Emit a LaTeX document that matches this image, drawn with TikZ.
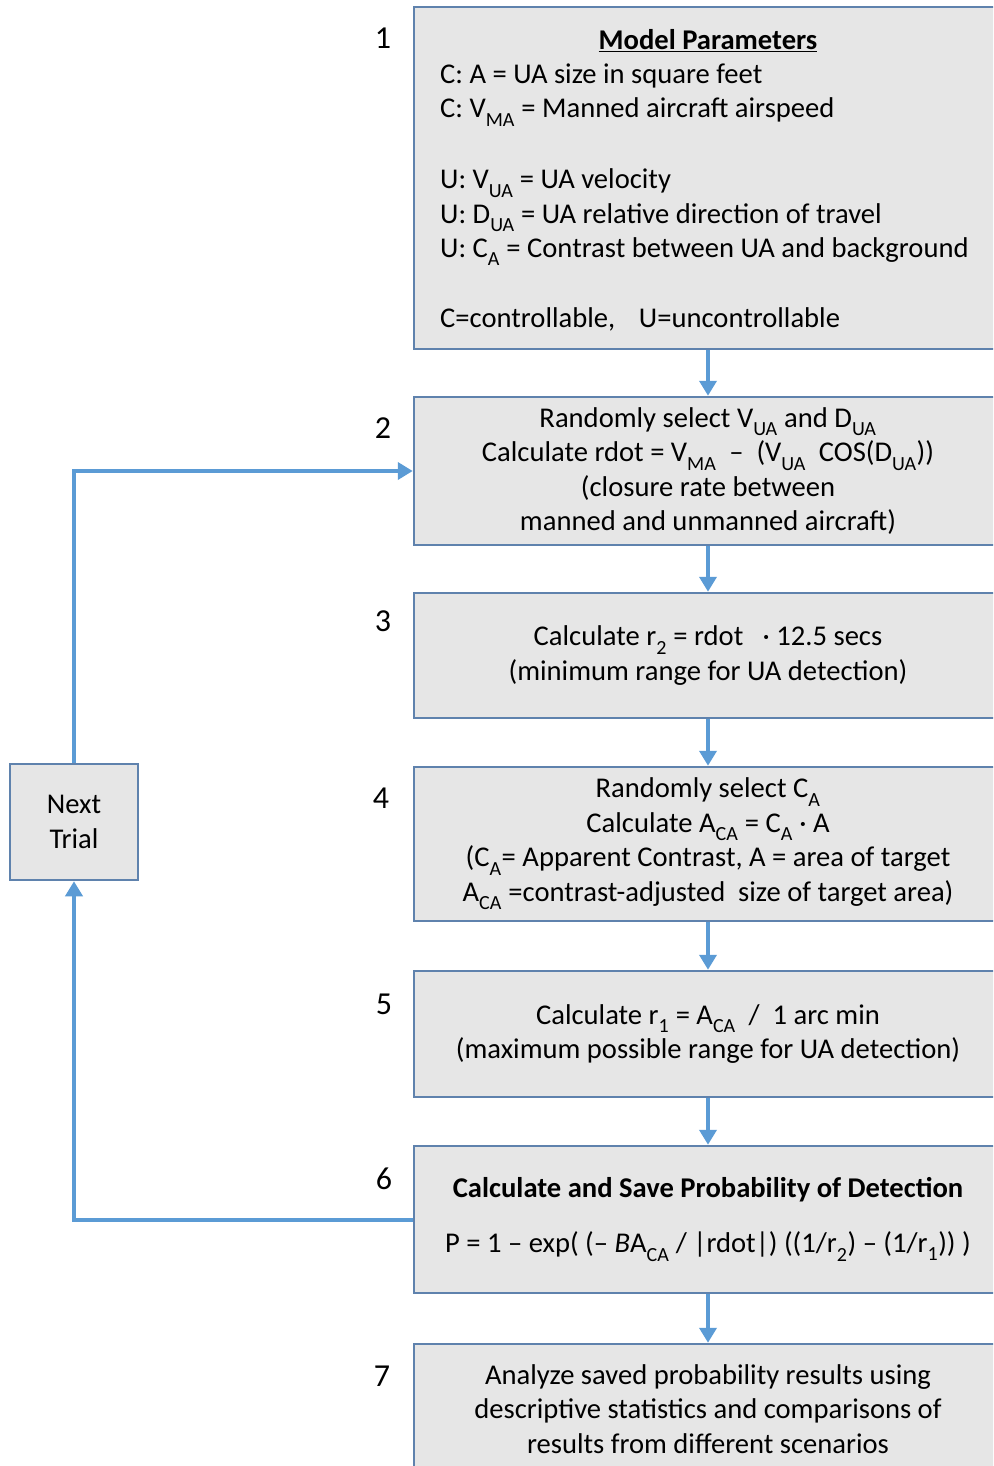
\documentclass[tikz,border=0pt]{standalone}
\usepackage{fontspec}
\setmainfont{Carlito}
\usetikzlibrary{arrows.meta}
\definecolor{boxfill}{HTML}{E6E6E6}
\definecolor{boxedge}{HTML}{5F82AD}
\definecolor{arrowblue}{HTML}{5B9BD5}
\newcommand{\sbs}[1]{\raisebox{-0.3ex}{\textsubscript{#1}}}
\begin{document}
\begin{tikzpicture}[x=1pt,y=-1pt,
  stepbox/.style={draw=boxedge,line width=2.5pt,fill=boxfill,inner sep=0pt,
    minimum width=588pt,align=center,font=\fontsize{28.6}{34.5}\selectfont},
  bodytext/.style={anchor=base west,inner sep=0pt,font=\fontsize{28.6}{34.5}\selectfont},
  numlabel/.style={anchor=base,inner sep=0pt,font=\fontsize{32}{36}\selectfont},
  flow/.style={draw=arrowblue,line width=4pt,-{Triangle[length=15pt,width=17pt]}}]
\useasboundingbox (0,0) rectangle (993,1466);
\begin{scope}
\clip (0,0) rectangle (993,1466);
% boxes
\node[stepbox,minimum height=342pt] (b1) at (708,178) {};
\node[stepbox,minimum height=148pt] (b2) at (708,471) {Randomly select V\sbs{UA} and D\sbs{UA}\\
Calculate rdot = V\sbs{MA} ~–~ (V\sbs{UA} ~COS(D\sbs{UA}))\\
(closure rate between\\
manned and unmanned aircraft)};
\node[stepbox,minimum height=125pt] (b3) at (708,655.5) {Calculate r\sbs{2} = rdot ~~·~12.5 secs\\
(minimum range for UA detection)};
\node[stepbox,minimum height=154pt] (b4) at (708,844) {Randomly select C\sbs{A}\\
Calculate A\sbs{CA} = C\sbs{A} · A\\
(C\sbs{A}= Apparent Contrast, A = area of target\\
A\sbs{CA} =contrast-adjusted ~size of target area)};
\node[stepbox,minimum height=126pt] (b5) at (708,1034) {Calculate r\sbs{1} = A\sbs{CA} ~/~ 1 arc min\\
(maximum possible range for UA detection)};
\node[stepbox,minimum height=147pt] (b6) at (708,1219.5) {\textbf{Calculate and Save Probability of Detection}\\[20pt]
P = 1 – exp( (– \textit{B}A\sbs{CA} / |rdot|) ((1/r\sbs{2}) – (1/r\sbs{1})) )};
\node[stepbox,minimum height=130pt] (b7) at (708,1409) {Analyze saved probability results using\\
descriptive statistics and comparisons of\\
results from different scenarios};
\node[stepbox,minimum width=128pt,minimum height=116pt] (nt) at (74,822) {Next\\Trial};
\end{scope}
% box 1 text
\node[anchor=base,inner sep=0pt,font=\fontsize{28.6}{34.5}\selectfont\bfseries] (t1) at (708,50) {\underline{Model Parameters}};
\node[bodytext] (l1) at (440,84) {C: A = UA size in square feet};
\node[bodytext] (l2) at (440,118) {C: V\sbs{MA} = Manned aircraft airspeed};
\node[bodytext] (l3) at (440,189) {U: V\sbs{UA} = UA velocity};
\node[bodytext] (l4) at (440,223) {U: D\sbs{UA} = UA relative direction of travel};
\node[bodytext] (l5) at (440,257) {U: C\sbs{A} = Contrast between UA and background};
\node[bodytext] (l6) at (440,327) {C=controllable,\hspace{0.6em} U=uncontrollable};
% numbers
\node[numlabel] (n1) at (383,49) {1};
\node[numlabel] (n2) at (383,438) {2};
\node[numlabel] (n3) at (383,631) {3};
\node[numlabel] (n4) at (381,808) {4};
\node[numlabel] (n5) at (384,1014) {5};
\node[numlabel] (n6) at (384,1189) {6};
\node[numlabel] (n7) at (382,1386) {7};
% arrows
\draw[flow] (b1.south) -- (b2.north);
\draw[flow] (b2.south) -- (b3.north);
\draw[flow] (b3.south) -- (b4.north);
\draw[flow] (b4.south) -- (b5.north);
\draw[flow] (b5.south) -- (b6.north);
\draw[flow] (b6.south) -- (b7.north);
\draw[flow] (b6.west) -- (b6.west -| nt.south) -- (nt.south);
\draw[flow] (nt.north) -- (nt.north |- b2.west) -- (b2.west);
\end{tikzpicture}
\end{document}
